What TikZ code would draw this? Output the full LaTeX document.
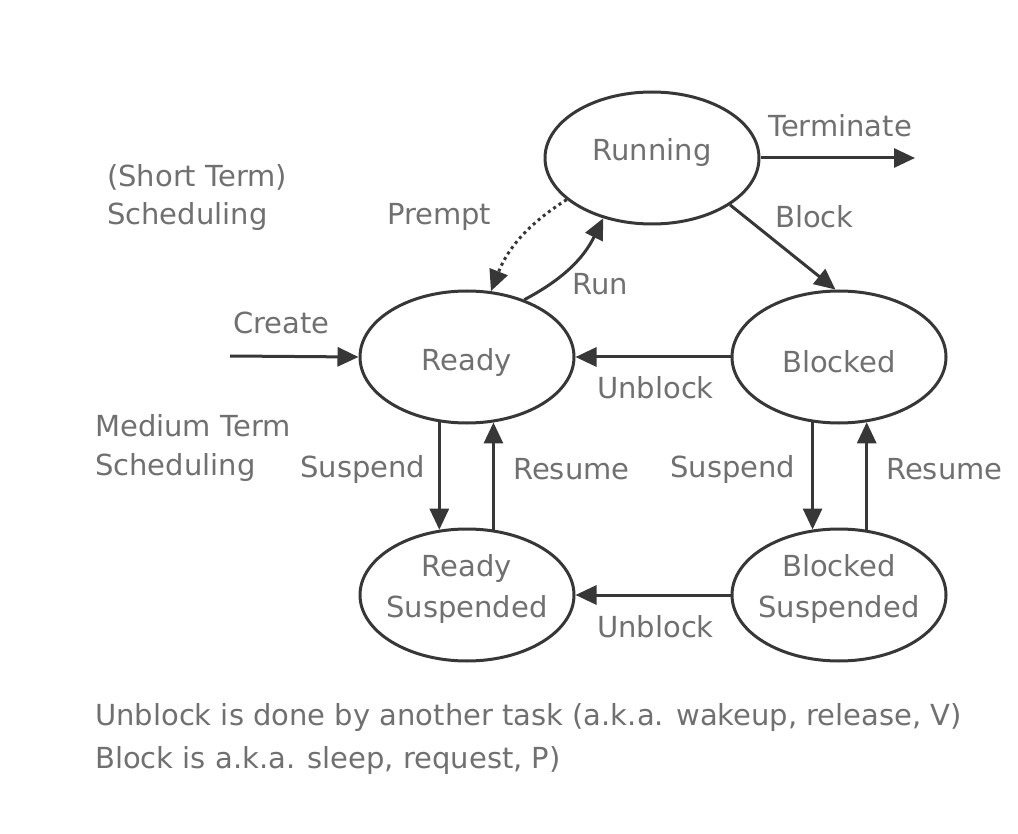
\documentclass[tikz,border=0pt]{standalone}
\usepackage{fontspec}
\setmainfont{DejaVu Sans}
\usetikzlibrary{arrows.meta,shapes.geometric}
\definecolor{txtgray}{RGB}{112,112,112}
\definecolor{linegray}{RGB}{55,55,55}
\begin{document}
\begin{tikzpicture}[x=1pt,y=-1pt,
  state/.style={ellipse,draw=linegray,line width=3pt,minimum width=214pt,minimum height=132pt,inner sep=0pt},
  stxt/.style={text=txtgray,align=center,inner sep=0pt,font=\fontsize{29}{41}\selectfont},
  lbl/.style={text=txtgray,inner sep=0pt,anchor=west,font=\fontsize{29}{41}\selectfont},
  arr/.style={draw=linegray,line width=3pt,-{Triangle[length=21pt,width=19pt]}},
  dotarr/.style={arr,dash pattern=on 3pt off 3.5pt}]
\useasboundingbox (0,0) rectangle (1018,834);
% states
\node[state] (run) at (652,158) {};
\node[state] (rdy) at (467,357) {};
\node[state] (blk) at (839,357) {};
\node[state] (rs)  at (467,595) {};
\node[state] (bs)  at (839,595) {};
\node[stxt] (runT) at (652,153) {Running};
\node[stxt] (rdyT) at (467,362) {Ready};
\node[stxt] (blkT) at (839,362) {Blocked};
\node[stxt] (rsT)  at (467,589) {Ready\\Suspended};
\node[stxt] (bsT)  at (839,589) {Blocked\\Suspended};
% free ends
\coordinate (term) at (915,158);
\coordinate (crt) at (230,356);
% connectors
\draw[arr] (run.east) -- (term);
\draw[arr] (run.329) -- (blk.93);
\draw[arr] (rdy.45) to[bend right=18] (run.231);
\draw[dotarr] (run.206) to[bend right=18] (rdy.70);
\draw[arr] (crt) -- (rdy.west);
\draw[arr] (blk.west) -- (rdy.east);
\draw[arr] (rdy.247) -- (rs.113);
\draw[arr] (rs.68) -- (rdy.292);
\draw[arr] (blk.248) -- (bs.112);
\draw[arr] (bs.67) -- (blk.293);
\draw[arr] (bs.west) -- (rs.east);
% labels
\node[lbl] (l1) at (107,177) {(Short Term)};
\node[lbl] (l2) at (107,217) {Scheduling};
\node[lbl] (l3) at (387,217) {Prempt};
\node[lbl] (l4) at (768,126) {Terminate};
\node[lbl] (l5) at (775,217) {Block};
\node[lbl] (l6) at (572,284) {Run};
\node[lbl] (l7) at (233,323) {Create};
\node[lbl] (l8) at (597,388) {Unblock};
\node[lbl] (l9) at (95,426) {Medium Term};
\node[lbl] (l10) at (95,467) {Scheduling};
\node[lbl] (l11) at (300,469) {Suspend};
\node[lbl] (l12) at (513,469) {Resume};
\node[lbl] (l13) at (670,469) {Suspend};
\node[lbl] (l14) at (886,469) {Resume};
\node[lbl] (l15) at (597,627) {Unblock};
\node[lbl] (l16) at (95,717) {Unblock is done by another task (a.k.a. wakeup, release, V)};
\node[lbl] (l17) at (95,760) {Block is a.k.a. sleep, request, P)};
\end{tikzpicture}
\end{document}
